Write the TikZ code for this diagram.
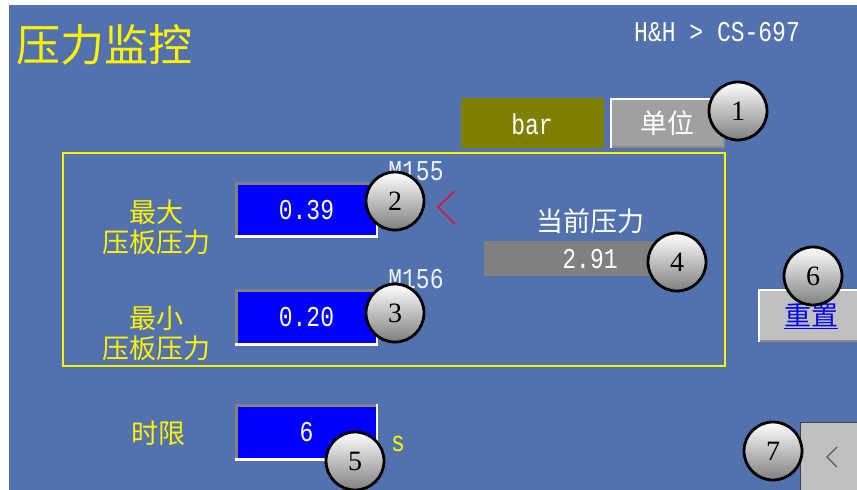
\documentclass[tikz,border=0pt]{standalone}
\usepackage{fontspec}
\usepackage{graphicx}
\setmainfont{Liberation Serif}
\newfontfamily\cjk{Noto Sans CJK SC}
\newfontfamily\mono{Liberation Mono}
\definecolor{bgblue}{HTML}{5271AF}
\definecolor{olivebox}{HTML}{808000}
\definecolor{btngray}{HTML}{A0A0A0}
\definecolor{ltgray}{HTML}{C0C0C0}
\definecolor{midgray}{HTML}{808080}
\definecolor{entryblue}{HTML}{0000FF}
\definecolor{redmark}{HTML}{DC143C}
\newcommand\tallmono[1]{\scalebox{1}[1.25]{#1}}
\tikzset{
  cjklabel/.style={inner sep=0, font=\cjk\fontsize{27}{30}\selectfont, align=center},
  monotext/.style={inner sep=0, text=white, font=\mono\fontsize{23}{23}\selectfont},
  badge/.style={circle, draw=black, line width=2.8pt, minimum size=58pt, inner sep=0,
    top color=white, bottom color=black!50, font=\fontsize{28}{28}\selectfont},
}
\newcommand\entryfield[5]{% name, x0, y0, x1, y1
  \fill[white] (#2,#3) rectangle (#4,#5);
  \fill[midgray] (#2,#3) rectangle (#4-2,#5-3);
  \fill[entryblue] (#2+3,#3+3) rectangle (#4-2,#5-3);
  \coordinate (#1) at ({(#2+#4)/2},{(#3+#5)/2});
}
\begin{document}
\begin{tikzpicture}[x=1pt,y=-1pt]
\useasboundingbox (0,0) rectangle (857,490);
\fill[white] (0,0) rectangle (857,490);
\fill[bgblue] (9,5) rectangle (857,490);

% title and path
\node[inner sep=0, anchor=west, text=yellow, font=\cjk\fontsize{44}{44}\selectfont] (title) at (16,45) {压力监控};
\node[monotext, anchor=west] (path) at (634,32) {\tallmono{H\&H > CS-697}};

% unit selector
\fill[olivebox] (461,98) rectangle (604,148);
\node[monotext] (bar) at (532,124) {\tallmono{bar}};
\fill[white] (610,98) rectangle (725,148);
\fill[black!45] (612,100) rectangle (725,148);
\fill[btngray] (612,100) rectangle (723,146);
\node[cjklabel, text=white] (unit) at (667,123) {单位};

% frame
\draw[yellow, line width=2pt] (63,153) rectangle (725,366);

% labels
\node[cjklabel, text=yellow] (maxlbl) at (156,227) {最大\\压板压力};
\node[cjklabel, text=yellow] (minlbl) at (156,333) {最小\\压板压力};
\node[cjklabel, text=yellow] (timelbl) at (158,433) {时限};

% entry fields
\entryfield{e1}{235}{182}{378}{238}
\entryfield{e2}{235}{289}{378}{346}
\entryfield{e3}{235}{404}{378}{461}
\node[monotext] (v1) at (e1) {\tallmono{0.39}};
\node[monotext] (v2) at (e2) {\tallmono{0.20}};
\node[monotext] (v3) at (e3) {\tallmono{6}};
\node[inner sep=0, text=yellow, font=\mono\fontsize{23}{23}\selectfont] (sec) at (398,444) {\tallmono{s}};

\node[monotext, text=white!90!bgblue] (m155) at (416,171) {\tallmono{M155}};
\node[monotext, text=white!90!bgblue] (m156) at (416,279) {\tallmono{M156}};

% red marker
\draw[redmark, line width=1.6pt] (455,191) -- (438,207) -- (455,224);

% current pressure
\node[cjklabel, text=white] (curlbl) at (590,221) {当前压力};
\fill[midgray] (484,241) rectangle (660,276);
\node[monotext] (cur) at (590,259) {\tallmono{2.91}};

% reset button
\fill[white] (758,289) rectangle (857,342);
\fill[black!45] (760,291) rectangle (857,342);
\fill[ltgray] (760,291) rectangle (857,340);
\node[cjklabel, text=entryblue] (reset) at (811,316) {\underline{重置}};

% back button
\fill[ltgray] (800,422) rectangle (857,490);
\draw[black!75, line width=1pt] (857,422) -- (800.5,422) -- (800.5,490);
\draw[black!65, line width=1.2pt] (837,447) -- (827,457) -- (837,467);

% badges
\node[badge] (b1) at (738,111) {1};
\node[badge] (b2) at (395,201) {2};
\node[badge] (b3) at (395,313) {3};
\node[badge] (b4) at (677,262) {4};
\node[badge] (b5) at (355,461) {5};
\node[badge] (b6) at (813,276) {6};
\node[badge] (b7) at (773,451) {7};
\end{tikzpicture}
\end{document}
